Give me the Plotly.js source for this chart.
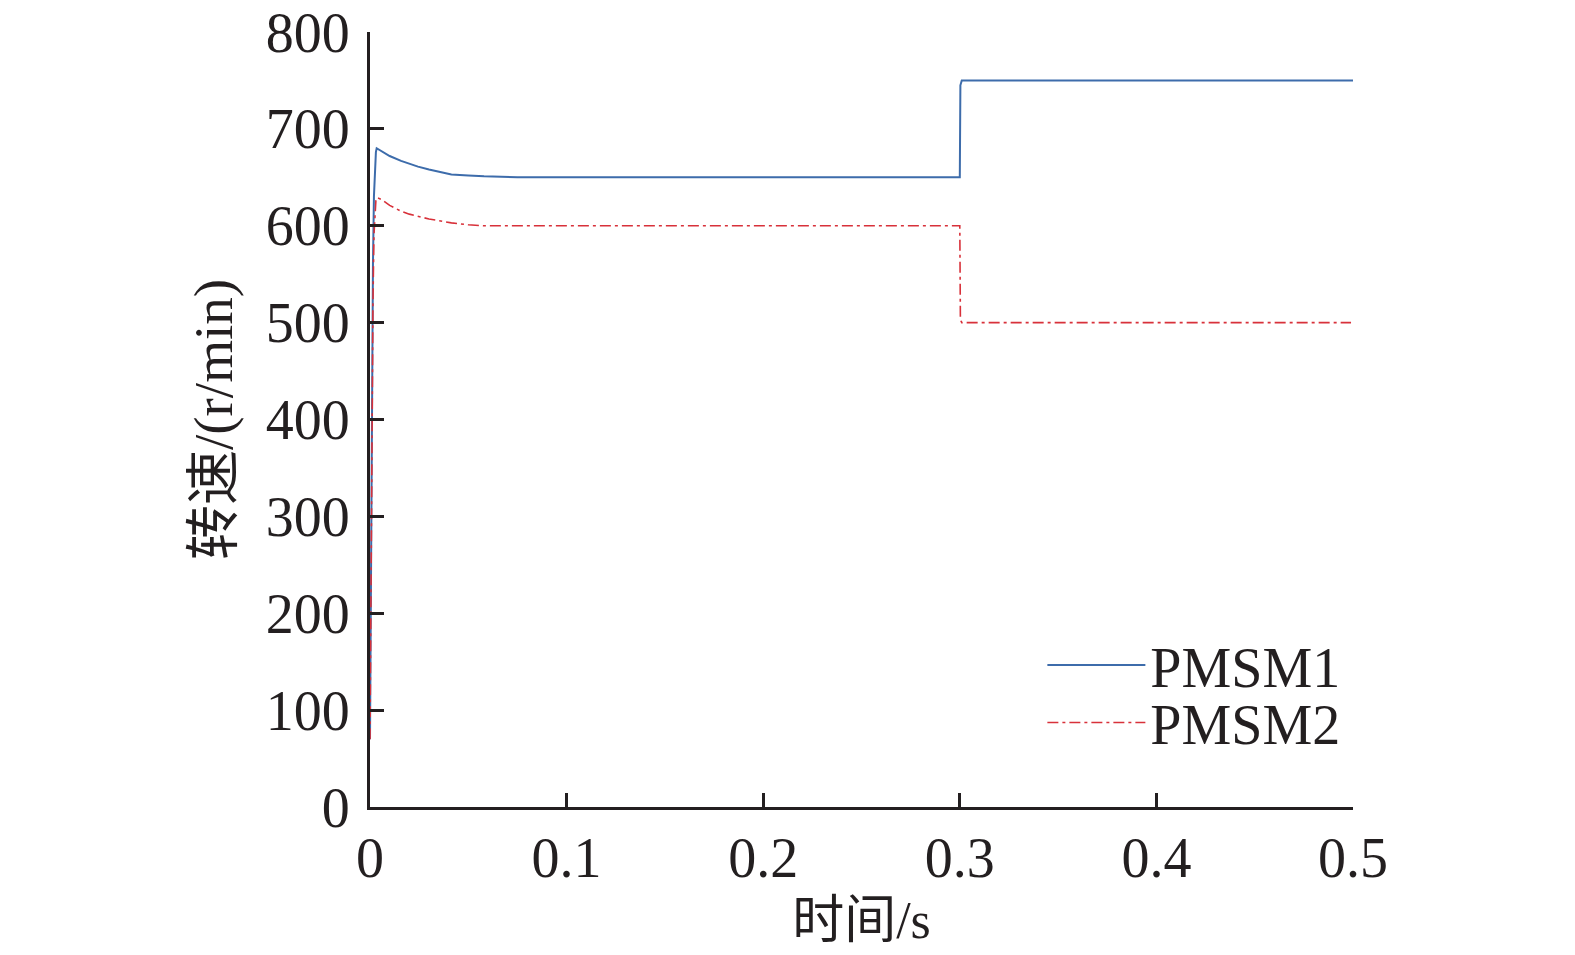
<!DOCTYPE html>
<html>
<head>
<meta charset="utf-8">
<script src="https://cdn.plot.ly/plotly-3.0.1.min.js"></script>
<style>
html,body{margin:0;padding:0;background:#fff;overflow:hidden;}
#chart{width:1575px;height:955px;}
</style>
</head>
<body>
<div id="chart"></div>
<script>
// time (s) and speed (r/min)
const t1 = [0, 0.0005, 0.001, 0.0015, 0.002, 0.0025, 0.003, 0.0034, 0.006, 0.01, 0.0158, 0.02, 0.0244, 0.03, 0.0414, 0.05, 0.058, 0.075, 0.1, 0.2, 0.2995, 0.3, 0.3003, 0.301, 0.35, 0.4, 0.5];
const pmsm1 = [70, 260, 430, 560, 630, 664, 676, 680, 677, 672, 667, 664, 661, 658, 653, 652, 651, 650, 650, 650, 650, 650, 745, 750, 750, 750, 750];

const t2 = [0, 0.0005, 0.001, 0.0015, 0.002, 0.0025, 0.003, 0.0035, 0.006, 0.01, 0.0158, 0.02, 0.0244, 0.03, 0.0414, 0.05, 0.058, 0.07, 0.1, 0.2, 0.2995, 0.3, 0.3003, 0.301, 0.35, 0.4, 0.499];
const pmsm2 = [70, 240, 400, 520, 590, 618, 626, 629, 627, 621, 615, 612, 610, 607, 603, 601, 600, 600, 600, 600, 600, 600, 503, 500, 500, 500, 500];

const seriesNames = ['PMSM1', 'PMSM2'];
const xTickVals = [0, 0.1, 0.2, 0.3, 0.4, 0.5];
const xTickText = ['0', '0.1', '0.2', '0.3', '0.4', '0.5'];
const yTickVals = [0, 100, 200, 300, 400, 500, 600, 700, 800];
const yTickText = ['0', '100', '200', '300', '400', '500', '600', '700', '800'];

const FONT = 'Liberation Serif, Times New Roman, Noto Sans CJK SC, serif';
const INK = '#231f20';

const traces = [
  {x: t1, y: pmsm1, name: seriesNames[0], mode: 'lines', type: 'scatter', legend: 'legend',
   line: {color: '#3d6cab', width: 2}},
  {x: t2, y: pmsm2, name: seriesNames[1], mode: 'lines', type: 'scatter', legend: 'legend2',
   line: {color: '#d8313a', width: 1.6, dash: '11px,4px,3px,4px'}}
];

const legendStyle = (yc) => ({
  x: 0.684, y: yc, xanchor: 'left', yanchor: 'middle',
  bgcolor: 'rgba(0,0,0,0)', borderwidth: 0,
  font: {family: FONT, size: 56, color: INK},
  itemwidth: 98
});

const layout = {
  width: 1575, height: 955,
  paper_bgcolor: '#fff', plot_bgcolor: '#fff',
  margin: {l: 370, r: 222, t: 32, b: 148},
  font: {family: FONT, color: INK, size: 56},
  showlegend: true,
  legend: legendStyle(0.183),
  legend2: legendStyle(0.109),
  xaxis: {
    range: [0, 0.5], tickvals: xTickVals, ticktext: xTickText,
    ticks: 'inside', ticklen: 14, tickwidth: 3, tickcolor: INK,
    showline: true, linewidth: 3, linecolor: INK,
    showgrid: false, zeroline: false, mirror: false,
    tickfont: {family: FONT, size: 56, color: INK},
    ticklabelstandoff: 0,
    title: {text: '时间/s', font: {family: FONT, size: 52, color: INK}, standoff: 14}
  },
  yaxis: {
    range: [0, 800], tickvals: yTickVals, ticktext: yTickText,
    ticks: 'inside', ticklen: 14, tickwidth: 3, tickcolor: INK,
    showline: true, linewidth: 3, linecolor: INK,
    showgrid: false, zeroline: false, mirror: false,
    tickfont: {family: FONT, size: 56, color: INK},
    ticklabelstandoff: 6,
    title: {text: '转速/(r/min)', font: {family: FONT, size: 55, color: INK}, standoff: 16}
  }
};

Plotly.newPlot('chart', traces, layout, {staticPlot: true, displayModeBar: false});
</script>
</body>
</html>
